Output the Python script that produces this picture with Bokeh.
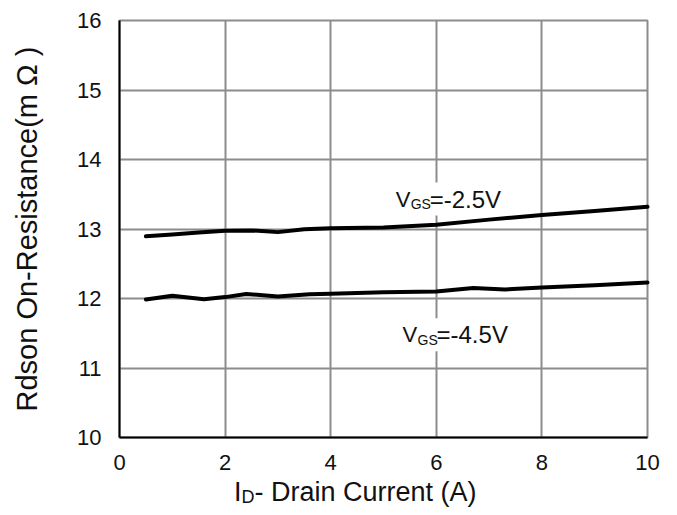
from bokeh.plotting import figure
from bokeh.models import Label, Range1d, FixedTicker, Div
from bokeh.layouts import column
from bokeh.embed import file_html
from bokeh.resources import INLINE

# ---- data ----
x_ticks = [0, 2, 4, 6, 8, 10]
y_ticks = [10, 11, 12, 13, 14, 15, 16]

id_25 = [0.5, 1.0, 1.5, 2.0, 2.5, 3.0, 3.5, 4.0, 5.0, 6.0, 7.0, 8.0, 9.0, 10.0]
rds_25 = [12.895, 12.92, 12.95, 12.975, 12.98, 12.955, 12.995, 13.01, 13.02,
          13.06, 13.135, 13.2, 13.26, 13.32]

id_45 = [0.5, 1.0, 1.6, 2.0, 2.4, 3.0, 3.6, 4.0, 5.0, 6.0, 6.7, 7.3, 8.0, 9.0, 10.0]
rds_45 = [11.985, 12.04, 11.99, 12.02, 12.065, 12.03, 12.06, 12.07, 12.09,
          12.10, 12.15, 12.13, 12.16, 12.19, 12.23]

label_25 = "=-2.5V"
label_45 = "=-4.5V"
x_title_main = "I"
x_title_sub = "D"
x_title_rest = "- Drain Current (A)"
y_title = "Rdson On-Resistance(m \u03a9 )"

FONT = "Liberation Sans"
GRID = "#8c8c8c"
INK = "#111111"

p = figure(width=677, height=480, x_range=Range1d(0, 10), y_range=Range1d(10, 16),
           output_backend="svg", toolbar_location=None,
           min_border_left=119, min_border_right=30,
           min_border_top=20, min_border_bottom=43)

p.background_fill_color = "white"
p.border_fill_color = "white"
p.outline_line_color = GRID
p.outline_line_width = 2

for ax, ticks in ((p.xaxis, x_ticks), (p.yaxis, y_ticks)):
    ax.ticker = FixedTicker(ticks=ticks)
    ax.axis_line_color = "black"
    ax.axis_line_width = 2
    ax.major_tick_in = 0
    ax.major_tick_out = 0
    ax.minor_tick_line_color = None
    ax.major_label_text_font = FONT
    ax.major_label_text_font_size = "22px"
    ax.major_label_text_color = INK
p.xaxis.major_label_standoff = 17
p.yaxis.major_label_standoff = 18

p.yaxis.axis_label = y_title
p.yaxis.axis_label_text_font = FONT
p.yaxis.axis_label_text_font_size = "29px"
p.yaxis.axis_label_text_font_style = "normal"
p.yaxis.axis_label_text_color = INK
p.yaxis.axis_label_standoff = 31

p.xgrid.ticker = FixedTicker(ticks=x_ticks)
p.ygrid.ticker = FixedTicker(ticks=y_ticks)
for g in (p.xgrid, p.ygrid):
    g.grid_line_color = GRID
    g.grid_line_width = 2

def vgs_label(x, y, rest):
    p.add_layout(Label(x=x, y=y, x_offset=31, text=rest, text_font=FONT,
                       text_font_size="24px", text_color=INK, text_baseline="alphabetic",
                       background_fill_color="white", padding=3))
    p.add_layout(Label(x=x, y=y, text="V", text_font=FONT, text_font_size="22px",
                       text_color=INK, text_baseline="alphabetic"))
    p.add_layout(Label(x=x, y=y, x_offset=15, y_offset=-5, text="GS", text_font=FONT,
                       text_font_size="14px", text_color=INK, text_baseline="alphabetic"))

vgs_label(5.23, 13.43, label_25)
vgs_label(5.36, 11.48, label_45)

l1 = p.line(id_25, rds_25, line_color="black", line_width=4, line_join="round", line_cap="round")
l2 = p.line(id_45, rds_45, line_color="black", line_width=4, line_join="round", line_cap="round")
l1.level = "overlay"
l2.level = "overlay"

x_title_html = (
    '<div style="font-family:\'Liberation Sans\';font-size:27px;line-height:31px;'
    'color:%s;white-space:nowrap;position:relative;top:-3px;">'
    '%s<span style="font-size:18px;position:relative;top:2px;">%s</span>%s</div>'
    % (INK, x_title_main, x_title_sub, x_title_rest)
)
title_div = Div(text=x_title_html, width=420, height=35, margin=(0, 0, 0, 234))

layout = column(p, title_div, spacing=0)

open("out.html", "w").write(file_html(layout, INLINE))
